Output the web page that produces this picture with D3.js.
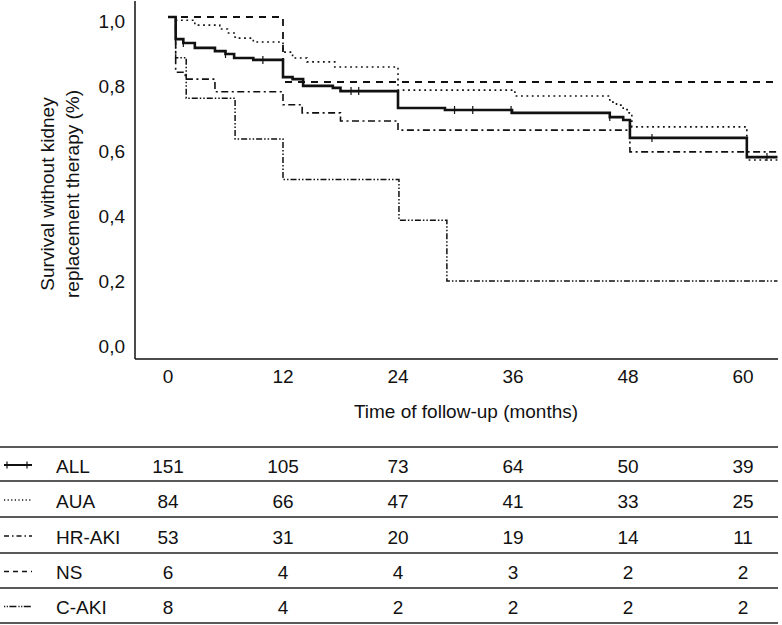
<!DOCTYPE html>
<html>
<head>
<meta charset="utf-8">
<script src="https://cdn.jsdelivr.net/npm/d3@7"></script>
<style>
  html, body { margin: 0; padding: 0; background: #fff; }
  svg { display: block; font-family: "Liberation Sans", Arial, Helvetica, sans-serif; }
</style>
</head>
<body>
<svg id="chart" width="782" height="625"></svg>
<script>
// ---------------- DATA ----------------
const groups = ["ALL", "AUA", "HR-AKI", "NS", "C-AKI"];
const xTicks = [0, 12, 24, 36, 48, 60];
const yTicks = [0, 0.2, 0.4, 0.6, 0.8, 1.0];
const yTickLabels = ["0,0", "0,2", "0,4", "0,6", "0,8", "1,0"];

// Kaplan-Meier step data (time in months, survival proportion)
const allTime = [0, 0.8, 1.6, 2.8, 4.9, 6.0, 6.9, 8.9, 12.0, 13.0, 14.1, 17.2, 18.0, 24.0, 28.9, 35.9, 46.1, 47.5, 48.2, 60.4, 63.6];
const allSurv = [1.0, 0.932, 0.92, 0.905, 0.895, 0.886, 0.874, 0.868, 0.815, 0.809, 0.788, 0.782, 0.772, 0.72, 0.714, 0.705, 0.692, 0.683, 0.628, 0.569, 0.569];
const allCensor = [1.6, 6.0, 9.9, 19.1, 19.9, 29.9, 31.8, 35.8, 46.1, 50.5, 62.5];

const auaTime = [0, 0.8, 2.8, 5.4, 6.2, 7.0, 8.9, 12.0, 13.0, 14.5, 17.4, 24.0, 36.2, 46.1, 46.8, 47.5, 48.0, 48.4, 60.4, 63.6];
const auaSurv = [1.0, 0.99, 0.975, 0.963, 0.951, 0.935, 0.923, 0.892, 0.874, 0.862, 0.846, 0.775, 0.757, 0.738, 0.729, 0.715, 0.705, 0.662, 0.56, 0.56];

const hrakiTime = [0, 0.8, 1.8, 4.9, 12.0, 14.0, 18.0, 24.0, 48.2, 63.6];
const hrakiSurv = [1.0, 0.83, 0.809, 0.77, 0.73, 0.705, 0.68, 0.652, 0.585, 0.585];

const nsTime = [0, 12.0, 63.6];
const nsSurv = [1.0, 0.8, 0.8];

const cakiTime = [0, 0.8, 1.9, 7.0, 12.0, 24.1, 29.1, 63.6];
const cakiSurv = [1.0, 0.875, 0.75, 0.625, 0.5, 0.375, 0.1875, 0.1875];

// Numbers at risk
const riskALL   = [151, 105, 73, 64, 50, 39];
const riskAUA   = [84, 66, 47, 41, 33, 25];
const riskHRAKI = [53, 31, 20, 19, 14, 11];
const riskNS    = [6, 4, 4, 3, 2, 2];
const riskCAKI  = [8, 4, 2, 2, 2, 2];

// ---------------- STYLES ----------------
const styles = {
  "ALL":    { width: 2.6, dash: null },
  "AUA":    { width: 1.6, dash: "1.8,3.6" },
  "HR-AKI": { width: 1.6, dash: "7,3.5,2,3.5" },
  "NS":     { width: 1.8, dash: "7,6" },
  "C-AKI":  { width: 1.5, dash: "6,2,1.5,2,1.5,2" }
};

const series = [
  { name: "NS", t: nsTime, s: nsSurv },
  { name: "AUA", t: auaTime, s: auaSurv },
  { name: "HR-AKI", t: hrakiTime, s: hrakiSurv },
  { name: "C-AKI", t: cakiTime, s: cakiSurv },
  { name: "ALL", t: allTime, s: allSurv }
];
const riskRows = [
  { name: "ALL", v: riskALL },
  { name: "AUA", v: riskAUA },
  { name: "HR-AKI", v: riskHRAKI },
  { name: "NS", v: riskNS },
  { name: "C-AKI", v: riskCAKI }
];

// ---------------- LAYOUT ----------------
const svg = d3.select("#chart");
const ink = "#111";
const x = d3.scaleLinear().domain([0, 60]).range([168, 743]);
const y = d3.scaleLinear().domain([0, 1]).range([342, 17]);
const axisLeftX = 135, axisBottomY = 359, axisRight = 778;

// axes lines
svg.append("line").attr("x1", axisLeftX).attr("x2", axisLeftX).attr("y1", 1).attr("y2", axisBottomY)
  .attr("stroke", ink).attr("stroke-width", 1.5);
svg.append("line").attr("x1", axisLeftX).attr("x2", axisRight).attr("y1", axisBottomY).attr("y2", axisBottomY)
  .attr("stroke", ink).attr("stroke-width", 1.5);

// y tick labels
svg.append("g").selectAll("text").data(yTicks).join("text")
  .attr("x", 125).attr("y", d => y(d) + 4)
  .attr("text-anchor", "end").attr("dominant-baseline", "central")
  .attr("font-size", 19).attr("fill", ink)
  .text((d, i) => yTickLabels[i]);

// x tick labels
svg.append("g").selectAll("text").data(xTicks).join("text")
  .attr("x", d => x(d)).attr("y", 376)
  .attr("text-anchor", "middle").attr("dominant-baseline", "central")
  .attr("font-size", 19).attr("fill", ink)
  .text(d => d);

// axis titles
svg.append("text").attr("x", 466).attr("y", 411)
  .attr("text-anchor", "middle").attr("dominant-baseline", "central")
  .attr("font-size", 19).attr("fill", ink)
  .text("Time of follow-up (months)");

const yt = svg.append("text").attr("transform", "translate(0,194) rotate(-90)")
  .attr("text-anchor", "middle").attr("font-size", 19).attr("fill", ink);
yt.append("tspan").attr("x", 0).attr("y", 54).text("Survival without kidney");
yt.append("tspan").attr("x", 0).attr("y", 79).text("replacement therapy (%)");

// curves
const line = d3.line().x(d => x(d[0])).y(d => y(d[1])).curve(d3.curveStepAfter);
series.forEach(sr => {
  const pts = sr.t.map((t, i) => [t, sr.s[i]]);
  const st = styles[sr.name];
  svg.append("path").attr("d", line(pts))
    .attr("fill", "none").attr("stroke", ink)
    .attr("stroke-width", st.width)
    .attr("stroke-dasharray", st.dash)
    .attr("stroke-linejoin", "miter");
});

// censor ticks on ALL
function survAt(times, surv, t) {
  let v = surv[0];
  for (let i = 0; i < times.length; i++) if (times[i] <= t) v = surv[i];
  return v;
}
svg.append("g").selectAll("line").data(allCensor).join("line")
  .attr("x1", d => x(d)).attr("x2", d => x(d))
  .attr("y1", d => y(survAt(allTime, allSurv, d)) - 4)
  .attr("y2", d => y(survAt(allTime, allSurv, d)) + 4)
  .attr("stroke", ink).attr("stroke-width", 1.2);

// ---------------- RISK TABLE ----------------
const rowLines = [447, 481, 517, 553, 588, 623];
svg.append("g").selectAll("line").data(rowLines).join("line")
  .attr("x1", 0).attr("x2", axisRight).attr("y1", d => d).attr("y2", d => d)
  .attr("stroke", "#222").attr("stroke-width", 1.6);

riskRows.forEach((r, i) => {
  const cy = (rowLines[i] + rowLines[i + 1]) / 2 + 1;
  const st = styles[r.name];
  svg.append("line").attr("x1", 4).attr("x2", 32).attr("y1", cy).attr("y2", cy)
    .attr("stroke", ink).attr("stroke-width", r.name === "ALL" ? 2 : 1.4)
    .attr("stroke-dasharray", r.name === "AUA" ? "1.2,2.4" : (r.name === "C-AKI" ? "1.2,1.5,1.2,1.5,7,2" : (r.name === "HR-AKI" ? "5,3,1.5,3" : (r.name === "NS" ? "5,4" : null))));
  if (r.name === "ALL") {
    [7, 27].forEach(px => svg.append("line").attr("x1", px).attr("x2", px)
      .attr("y1", cy - 3.5).attr("y2", cy + 3.5).attr("stroke", ink).attr("stroke-width", 1.2));
  }
  svg.append("text").attr("x", 56).attr("y", cy + 1)
    .attr("dominant-baseline", "central").attr("font-size", 19).attr("fill", ink)
    .text(r.name);
  svg.append("g").selectAll("text").data(r.v).join("text")
    .attr("x", (d, j) => x(xTicks[j])).attr("y", cy + 1)
    .attr("text-anchor", "middle").attr("dominant-baseline", "central")
    .attr("font-size", 19).attr("fill", ink)
    .text(d => d);
});
</script>
</body>
</html>
